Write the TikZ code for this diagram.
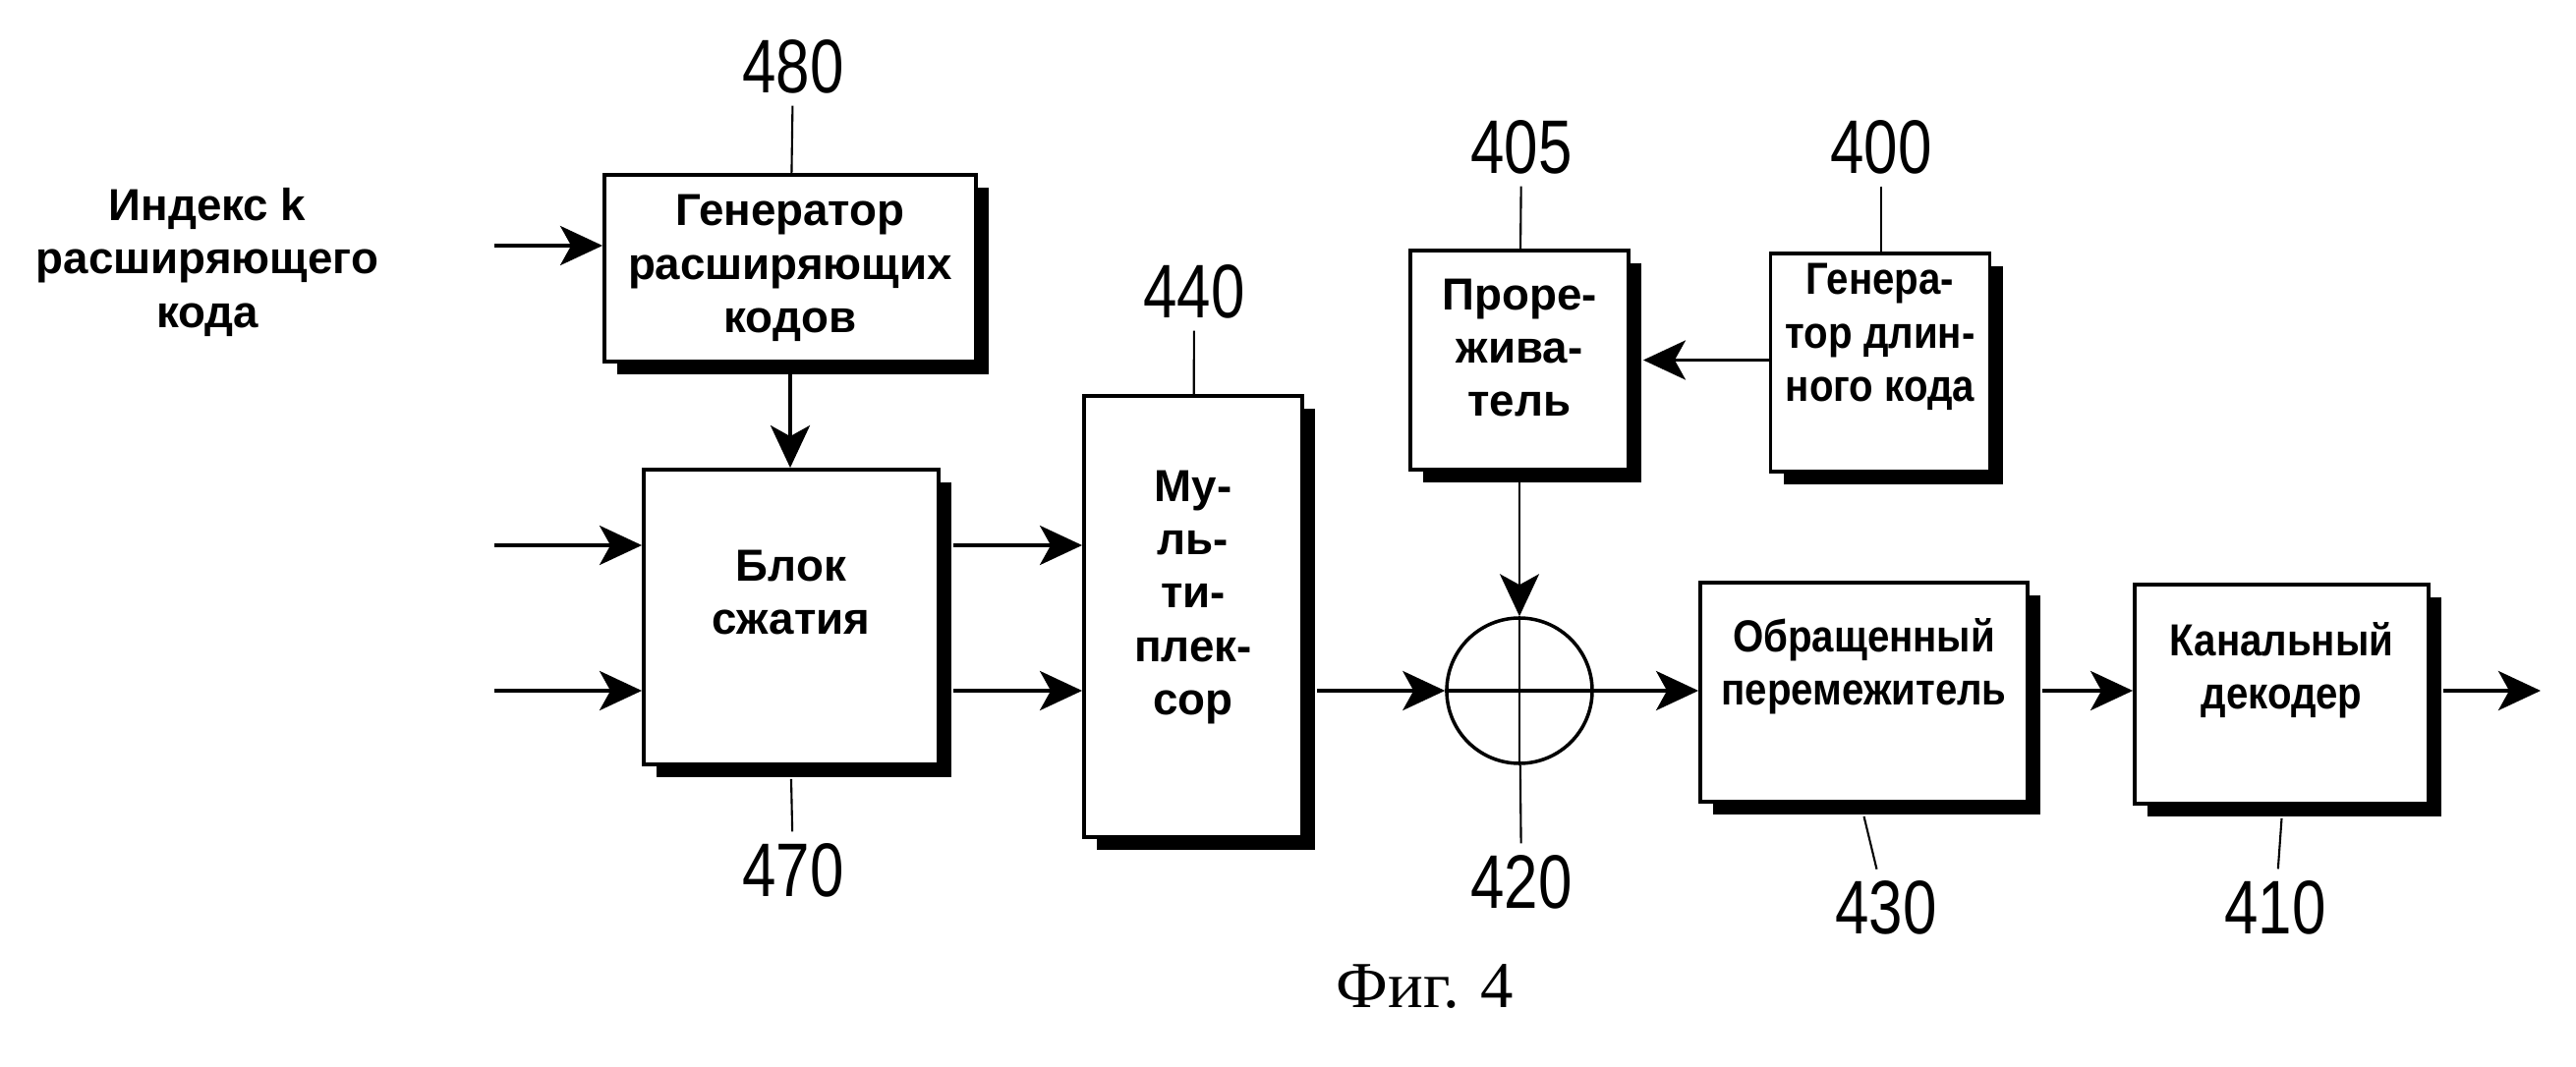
\documentclass[tikz,border=0pt]{standalone}
\usepackage{fontspec}
\setmainfont{Liberation Sans}
\newfontfamily\narrowfont[FakeStretch=0.88]{Liberation Sans}
\newfontfamily\numfont[FakeStretch=0.8]{Liberation Sans}
\newfontfamily\capfont{Liberation Serif}
\usetikzlibrary{arrows.meta,shadows}

\tikzset{
  blk/.style={draw, line width=1.1pt, fill=white, inner sep=0pt,
    drop shadow={shadow xshift=0.13cm, shadow yshift=-0.13cm, fill=black, opacity=1}},
  txt/.style={align=center, inner sep=0pt, font=\fontsize{13}{15.5}\selectfont\bfseries},
  ntxt/.style={txt, font=\narrowfont\fontsize{13}{15.5}\selectfont\bfseries},
  num/.style={inner sep=1pt, font=\numfont\fontsize{22}{24}\selectfont},
  lead/.style={line width=0.6pt, shorten <=0.08cm},
  sig/.style={line width=1.1pt, -{Stealth[length=0.43cm, width=0.40cm, inset=0.11cm]}}
}

\begin{document}
\begin{tikzpicture}
\useasboundingbox (0,0) rectangle (26.21,10.85);

\node[txt] (kidx) at (2.11,8.18) {Индекс k\\расширяющего\\кода};
\coordinate (kin) at (5.03,8.35);
\coordinate (in1) at (5.03,5.30);
\coordinate (in2) at (5.03,3.82);
\coordinate (out) at (25.85,3.82);

\node[blk, minimum width=3.78cm, minimum height=1.90cm] (b480) at (8.04,8.12) {};
\node[blk, minimum width=3.00cm, minimum height=3.00cm] (b470) at (8.05,4.57) {};
\node[blk, minimum width=2.22cm, minimum height=4.49cm] (b440) at (12.14,4.575) {};
\node[blk, minimum width=2.22cm, minimum height=2.23cm] (b405) at (15.46,7.185) {};
\node[blk, minimum width=2.23cm, minimum height=2.22cm] (b400) at (19.13,7.16) {};
\node[blk, minimum width=3.33cm, minimum height=2.23cm] (b430) at (18.965,3.805) {};
\node[blk, minimum width=2.99cm, minimum height=2.23cm] (b410) at (23.215,3.785) {};
\node[draw, circle, line width=1pt, minimum size=1.48cm, inner sep=0pt] (sum) at (15.46,3.82) {};

\node[txt] (t480) at (8.04,8.12) {Генератор\\расширяющих\\кодов};
\node[txt] (t470) at (8.05,4.82) {Блок\\сжатия};
\node[txt] (t440) at (12.14,4.77) {Му-\\ль-\\ти-\\плек-\\сор};
\node[txt] (t405) at (15.46,7.31) {Проре-\\жива-\\тель};
\node[ntxt] (t400) at (19.13,7.42) {Генера-\\тор длин-\\ного кода};
\node[ntxt] (t430) at (18.965,4.07) {Обращенный\\перемежитель};
\node[ntxt] (t410) at (23.215,4.03) {Канальный\\декодер};

\draw[line width=0.8pt] (sum.north) -- (sum.south);
\draw[line width=1.1pt] (sum.west) -- (sum.east);

\draw[sig] (kin) -- (kin -| b480.west);
\draw[sig] (b480.south) -- (b480.south |- b470.north);
\draw[sig] (in1) -- (in1 -| b470.west);
\draw[sig] (in2) -- (in2 -| b470.west);
\draw[sig] ([xshift=0.13cm]in1 -| b470.east) -- (in1 -| b440.west);
\draw[sig] ([xshift=0.13cm]in2 -| b470.east) -- (in2 -| b440.west);
\draw[sig] ([xshift=0.13cm]b440.east |- sum) -- (sum.west);
\draw[sig] (b400.west |- b405) -- ([xshift=0.13cm]b405.east);
\draw[sig, line width=0.7pt] (b405.south) -- (sum.north);
\draw[sig] (sum.east) -- (sum.east -| b430.west);
\draw[sig] ([xshift=0.13cm]b430.east |- sum) -- (b410.west |- sum);
\draw[sig] ([xshift=0.13cm]b410.east |- sum) -- (out);

\node[num] (l480) at (8.07,10.17) {480};
\node[num] (l440) at (12.15,7.88) {440};
\node[num] (l405) at (15.48,9.35) {405};
\node[num] (l400) at (19.14,9.35) {400};
\node[num] (l470) at (8.07,1.99) {470};
\node[num] (l420) at (15.48,1.87) {420};
\node[num] (l430) at (19.19,1.61) {430};
\node[num] (l410) at (23.15,1.61) {410};

\draw[lead] (l480) -- (b480);
\draw[lead] (l440) -- (b440);
\draw[lead] (l405) -- (b405);
\draw[lead] (l400.south) -- (l400.south |- b400.north);
\draw[lead] (l470) -- ([yshift=-0.13cm]b470.south);
\draw[lead] (l420) -- (sum);
\draw[lead] (l430) -- ([yshift=-0.13cm]b430.south);
\draw[lead] (l410) -- ([yshift=-0.13cm]b410.south);

\node[font=\capfont\fontsize{19}{22}\selectfont] (cap) at (14.50,0.81) {Фиг. 4};
\end{tikzpicture}
\end{document}
